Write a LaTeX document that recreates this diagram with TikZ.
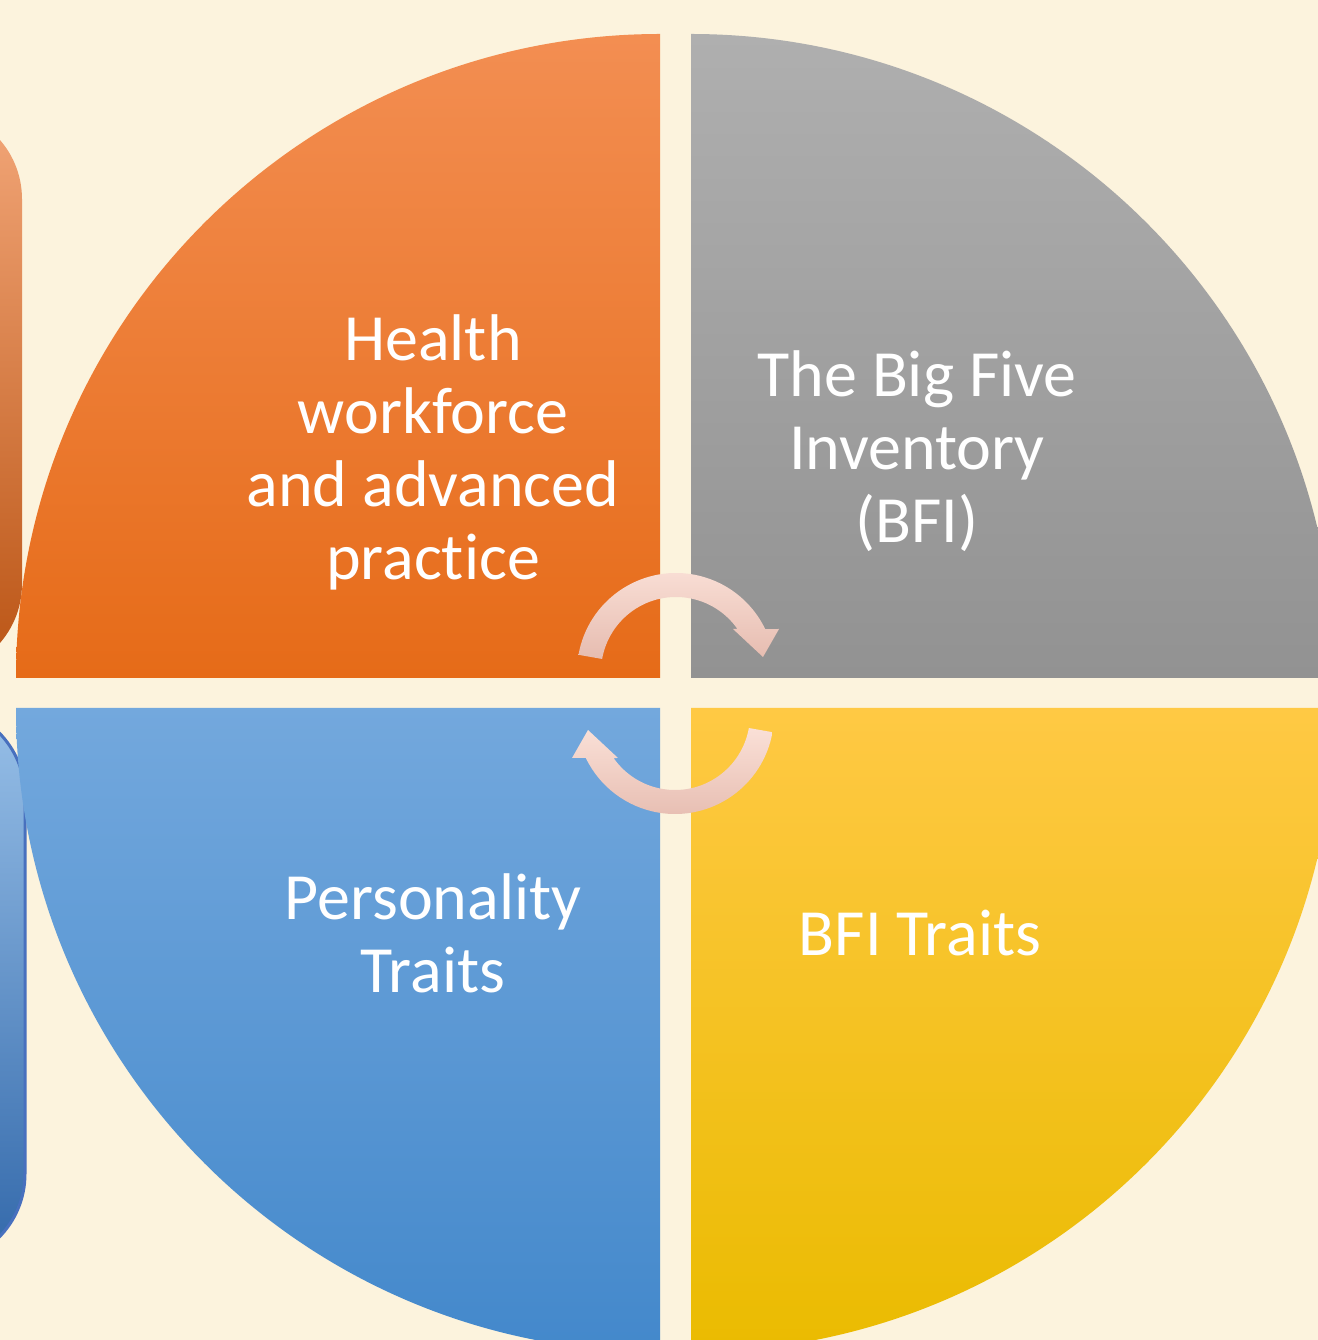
\documentclass[tikz,border=0pt]{standalone}
\usepackage{fontspec}
\setmainfont{Carlito}[Ligatures=NoCommon]
\definecolor{parchment}{RGB}{252,243,221}
\definecolor{healthtop}{RGB}{243,142,82}
\definecolor{healthmid}{RGB}{245,126,44}
\definecolor{healthbot}{RGB}{230,107,24}
\definecolor{bfitop}{RGB}{175,175,175}
\definecolor{bfibot}{RGB}{146,146,146}
\definecolor{perstop}{RGB}{115,168,221}
\definecolor{persbot}{RGB}{67,136,203}
\definecolor{traittop}{RGB}{255,201,68}
\definecolor{traitmid}{RGB}{254,198,8}
\definecolor{traitbot}{RGB}{234,187,0}
\definecolor{tabotop}{RGB}{242,166,120}
\definecolor{tabomid}{RGB}{238,136,72}
\definecolor{tabobot}{RGB}{186,84,20}
\definecolor{tabbtop}{RGB}{152,192,232}
\definecolor{tabbmid}{RGB}{106,158,218}
\definecolor{tabbbot}{RGB}{50,104,170}
\definecolor{tabbline}{RGB}{72,112,190}
\definecolor{arrowtop}{RGB}{250,224,215}
\definecolor{arrowbot}{RGB}{230,188,176}

\begin{document}
\begin{tikzpicture}[
    x=0.5pt, y=0.5pt,
    lbl/.style={text=white, align=center, inner sep=0pt, font=\fontsize{33}{36.5}\selectfont},
    sidetab/.style={rounded corners=45pt},
    cyc/.style={top color=arrowtop, bottom color=arrowbot}
]
    \useasboundingbox (0,0) rectangle (1318,1340);
    \clip (0,0) rectangle (1318,1340);
    \fill[parchment] (0,0) rectangle (1318,1340);

    % side tabs, mostly off the page
    \shade[sidetab, top color=tabotop, middle color=tabomid, bottom color=tabobot] (-200,666) rectangle (22,1231);
    \shade[sidetab, top color=tabbtop, middle color=tabbmid, bottom color=tabbbot, draw=tabbline, line width=1.5pt] (-200,76) rectangle (25,634);

    % four quarters
    \shade[top color=healthtop, middle color=healthmid, bottom color=healthbot]
        (660,662) -- (16,662) arc[start angle=180, end angle=90, radius=644] -- cycle;
    \shade[top color=bfitop, bottom color=bfibot]
        (691,662) -- (691,1306) arc[start angle=90, end angle=0, radius=644] -- cycle;
    \shade[top color=perstop, bottom color=persbot]
        (660,632) -- (660,-12) arc[start angle=270, end angle=180, radius=644] -- cycle;
    \shade[top color=traittop, middle color=traitmid, bottom color=traitbot]
        (691,632) -- (1335,632) arc[start angle=0, end angle=-90, radius=644] -- cycle;

    % cycle arrows
    \coordinate (upper) at (676,668);
    \coordinate (lower) at (675,625);
    \shade[cyc, shift={(upper)}] (170:99) arc[start angle=170, end angle=25.7, radius=99]
        -- (103,43) -- (87,15) -- (57,43) -- (35:75) arc[start angle=35, end angle=170, radius=75] -- cycle;
    \shade[cyc, shift={(lower)}] (-10:99) arc[start angle=-10, end angle=-154.3, radius=99]
        -- (-103,-43) -- (-87,-15) -- (-57,-43) -- (-145:75) arc[start angle=-145, end angle=-10, radius=75] -- cycle;

    \node[lbl] (health) at (433,888) {Health\\workforce\\and advanced\\practice};
    \node[lbl] (bfi) at (917,889) {The Big Five\\Inventory\\(BFI)};
    \node[lbl] (personality) at (433,407) {Personality\\Traits};
    \node[lbl] (bfitraits) at (920,407) {BFI Traits};
\end{tikzpicture}
\end{document}
